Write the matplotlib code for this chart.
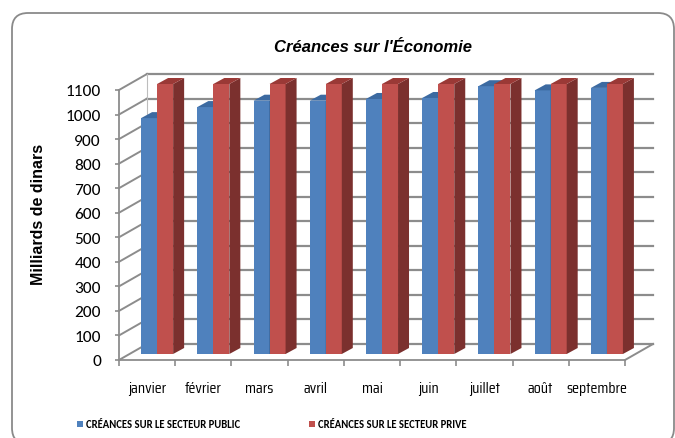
"""
Créances sur l'Économie - histogramme pseudo-3D (style Excel)
"""

import numpy as np
import matplotlib

matplotlib.use("Agg")  # noqa: E402
import matplotlib.pyplot as plt  # noqa: E402
import matplotlib.font_manager as fm  # noqa: E402
from matplotlib.patches import Polygon, FancyBboxPatch, Rectangle  # noqa: E402

# données
mois = ["janvier", "février", "mars", "avril", "mai", "juin", "juillet", "août", "septembre"]
secteur_public = [961, 1006, 1032, 1032, 1039, 1043, 1091, 1074, 1084]
secteur_prive = [1100, 1100, 1100, 1100, 1100, 1100, 1100, 1100, 1100]
yticks = list(range(0, 1101, 100))

titre = "Créances sur l'Économie"
ylabel = "Milliards de dinars"
leg_public = "CRÉANCES SUR LE SECTEUR PUBLIC"
leg_prive = "CRÉANCES SUR LE SECTEUR PRIVE"


def pick_font(names):
    installed = {f.name for f in fm.fontManager.ttflist}
    for n in names:
        if n in installed:
            return n
    return "DejaVu Sans"


squarish = pick_font(["Saira Condensed", "Saira ExtraCondensed", "Barlow Condensed", "DejaVu Sans"])
calibri = pick_font(["Carlito", "Open Sans", "DejaVu Sans"])
sans = pick_font(["Liberation Sans", "Arial", "DejaVu Sans"])

W, H = 675, 439
fig = plt.figure(figsize=(W / 100, H / 100), dpi=100)

# cadre arrondi (axes de fond en pixels)
bg = fig.add_axes([0, 0, 1, 1])
bg.set_xlim(0, W)
bg.set_ylim(0, H)
bg.axis("off")
bg.add_patch(FancyBboxPatch((12, -6), 662, 431, boxstyle="round,pad=0,rounding_size=16",
                            facecolor="white", edgecolor="#8a8a8a", linewidth=1.3))

# zone de tracé (plan avant)
ax_l, ax_b, ax_w, ax_h = 119, H - 361, 506, 270
ax = fig.add_axes([ax_l / W, ax_b / H, ax_w / W, ax_h / H])
ax.set_xlim(0, len(mois))
ax.set_ylim(0, 1100)
ax.patch.set_alpha(0)

# conversion pixels -> unités de données
ux = len(mois) / ax_w
uy = 1100 / ax_h
WALL_DX, WALL_DY = 28 * ux, 16 * uy    # profondeur du plancher
FRONT_DX, FRONT_DY = 10 * ux, 6 * uy   # recul de la face avant des barres
DEPTH_DX, DEPTH_DY = 11 * ux, 6 * uy   # profondeur des barres

grid_c = "#8c8c8c"
# murs : lignes du mur gauche et quadrillage du fond
for v in yticks:
    ax.plot([0, WALL_DX], [v, v + WALL_DY], color=grid_c, lw=1.4, clip_on=False, zorder=1)
    ax.plot([WALL_DX, len(mois) + WALL_DX], [v + WALL_DY, v + WALL_DY],
            color=grid_c, lw=1.6, clip_on=False, zorder=1)
# plancher : bord droit
ax.plot([len(mois), len(mois) + WALL_DX], [0, WALL_DY], color=grid_c, lw=1.4, clip_on=False, zorder=1)
ax.plot([WALL_DX, WALL_DX], [WALL_DY, 1100 + WALL_DY], color="#bdbdbd", lw=0.8, clip_on=False, zorder=1)

bw = 0.285
x_pub = np.arange(len(mois)) + (1 - 2 * bw) / 2 + FRONT_DX
x_pri = x_pub + bw


def draw_bars(xs, vals, c_front, c_side, c_top):
    ax.bar(xs, vals, width=bw, bottom=FRONT_DY, align="edge", color=c_front,
           linewidth=0, clip_on=False, zorder=3)
    for x0, v in zip(xs, vals):
        top = FRONT_DY + v
        side = [(x0 + bw, FRONT_DY), (x0 + bw + DEPTH_DX, FRONT_DY + DEPTH_DY),
                (x0 + bw + DEPTH_DX, top + DEPTH_DY), (x0 + bw, top)]
        cap = [(x0, top), (x0 + bw, top), (x0 + bw + DEPTH_DX, top + DEPTH_DY),
               (x0 + DEPTH_DX, top + DEPTH_DY)]
        ax.add_patch(Polygon(side, closed=True, facecolor=c_side, edgecolor="none",
                             clip_on=False, zorder=3))
        ax.add_patch(Polygon(cap, closed=True, facecolor=c_top, edgecolor="none",
                             clip_on=False, zorder=3))


# dessin catégorie par catégorie : bleu puis rouge
for i in range(len(mois)):
    draw_bars([x_pub[i]], [secteur_public[i]], "#4f81bd", "#2f5584", "#3c6aa1")
    draw_bars([x_pri[i]], [secteur_prive[i]], "#c0504d", "#7b302e", "#9a3936")

# axes
for s in ["top", "right"]:
    ax.spines[s].set_visible(False)
ax.spines["left"].set_color(grid_c)
ax.spines["left"].set_linewidth(1.3)
ax.spines["bottom"].set_color(grid_c)
ax.spines["bottom"].set_linewidth(1.3)

ax.set_yticks(yticks)
ax.set_yticklabels([str(v) for v in yticks], fontsize=12.5, family=calibri)
ax.tick_params(axis="y", length=3, width=1.2, color=grid_c, pad=10, labelcolor="black")

ax.set_xticks(np.arange(len(mois) + 1))
ax.set_xticklabels([])
ax.tick_params(axis="x", which="major", length=4, width=1.2, color=grid_c)
ax.set_xticks(np.arange(len(mois)) + 0.5, minor=True)
ax.set_xticklabels(mois, minor=True, fontsize=11.5, family=squarish)
ax.tick_params(axis="x", which="minor", length=0, pad=15)

# titres
fig.text(373 / W, 1 - 47 / H, titre, ha="center", va="center", fontsize=12,
         fontweight="bold", fontstyle="italic", family=sans)
fig.text(39 / W, 1 - 214 / H, ylabel, ha="center", va="center", rotation=90,
         fontsize=11.5, fontweight="bold", family=sans)

# légende
for x_sq, color, label in [(77, "#4f81bd", leg_public), (309, "#c0504d", leg_prive)]:
    bg.add_patch(Rectangle((x_sq, H - 428), 6, 6, facecolor=color, edgecolor="none"))
    bg.text(x_sq + 9, H - 425, label, ha="left", va="center", fontsize=7.7,
            fontweight="bold", family=calibri)

plt.savefig("out.png", dpi=100, facecolor="white")
plt.close(fig)
